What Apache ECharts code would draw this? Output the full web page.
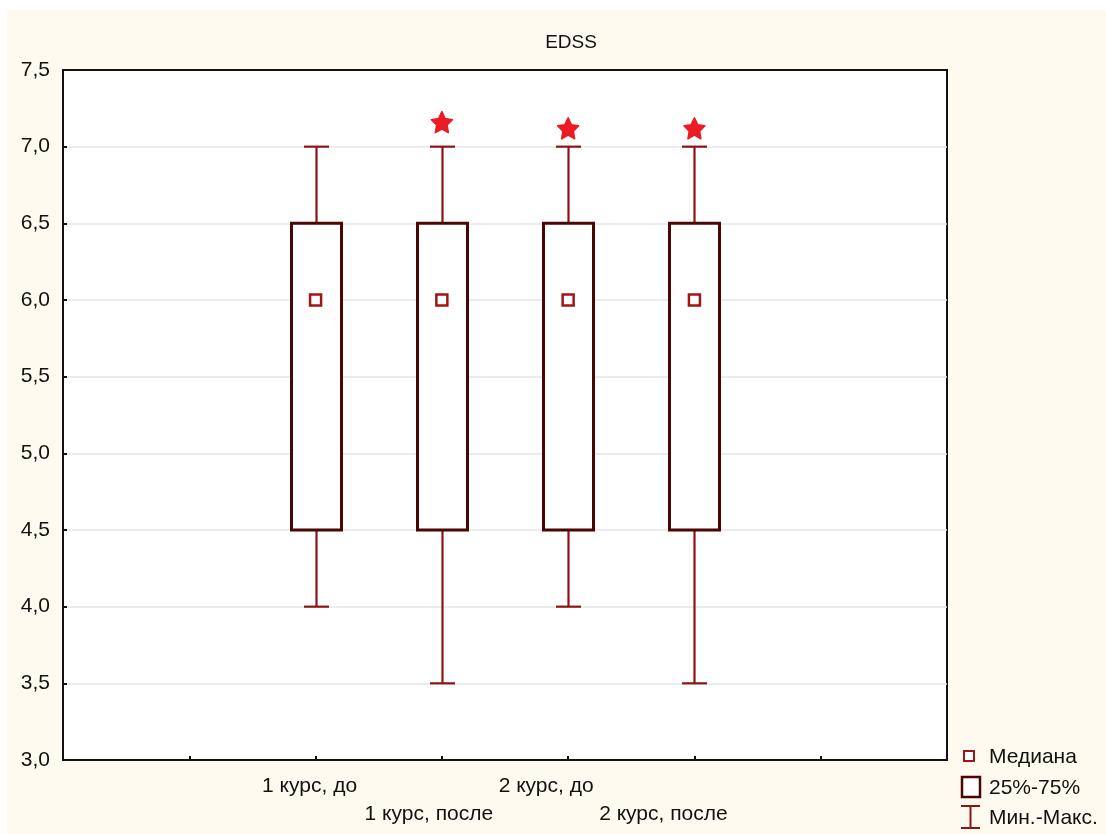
<!DOCTYPE html>
<html>
<head>
<meta charset="utf-8">
<script src="https://cdn.jsdelivr.net/npm/echarts@6/dist/echarts.min.js"></script>
<style>
html,body{margin:0;padding:0;background:#fff;}
#chart{position:absolute;left:0;top:0;width:1106px;height:834px;}
</style>
</head>
<body>
<div id="chart"></div>
<script>
// ---- data ----
const categories = ['1 курс, до', '1 курс, после', '2 курс, до', '2 курс, после'];
const positions = [2, 3, 4, 5];
const minVals = [4.0, 3.5, 4.0, 3.5];
const q1Vals = [4.5, 4.5, 4.5, 4.5];
const medianVals = [6.0, 6.0, 6.0, 6.0];
const q3Vals = [6.5, 6.5, 6.5, 6.5];
const maxVals = [7.0, 7.0, 7.0, 7.0];
const outlierIdx = [1, 2, 3];
const outlierVals = [7.16, 7.12, 7.12];
const legendLabels = ['Медиана', '25%-75%', 'Мин.-Макс.'];

// ---- styles ----
const FONT = 'Liberation Sans, Arial, sans-serif';
const FS = 21;
const labelShift = [6, 13, 22, 31];
const whiskerColor = '#8c1414';
const boxColor = '#4a0505';
const medColor = '#a01616';

const boxData = positions.map((p, i) => [p, minVals[i], q1Vals[i], medianVals[i], q3Vals[i], maxVals[i]]);
const medData = positions.map((p, i) => [p, medianVals[i]]);
const outData = outlierIdx.map((k, i) => [positions[k], outlierVals[i]]);

const rich = {};
categories.forEach((c, i) => {
  rich['r' + i] = {
    fontSize: FS, fontFamily: FONT, color: '#111',
    padding: [i % 2 ? 28 : 0, labelShift[i] * 2, 0, 0]
  };
});

function starPathStr() {
  const pts = [];
  for (let k = 0; k < 10; k++) {
    const r = k % 2 === 0 ? 50 : 25;
    const a = -Math.PI / 2 + k * Math.PI / 5;
    pts.push((50 + r * Math.cos(a)).toFixed(2) + ',' + (52 + r * Math.sin(a)).toFixed(2));
  }
  return 'path://M' + pts.join(' L') + ' Z';
}
const starPath = starPathStr();

const chart = echarts.init(document.getElementById('chart'));
chart.setOption({
  animation: false,
  backgroundColor: 'transparent',
  title: {
    text: 'EDSS', left: 566, top: 28, textAlign: 'center',
    textStyle: { fontFamily: FONT, fontSize: 19, fontWeight: 'normal', color: '#111' }
  },
  grid: {
    left: 63, top: 70, width: 884, height: 690,
    show: true, backgroundColor: '#fff', borderColor: '#111', borderWidth: 2
  },
  xAxis: {
    type: 'value', min: 0, max: 7, interval: 1,
    axisLine: { show: true, lineStyle: { color: '#111', width: 2 } },
    axisTick: { show: true, inside: true, length: 4, lineStyle: { color: '#111', width: 2 } },
    splitLine: { show: false },
    axisLabel: {
      margin: 16, showMinLabel: true, showMaxLabel: true,
      formatter: function (v) {
        const i = positions.indexOf(v);
        return i < 0 ? '' : '{r' + i + '|' + categories[i] + '}';
      },
      rich: rich
    }
  },
  yAxis: {
    type: 'value', min: 3, max: 7.5, interval: 0.5,
    axisLine: { show: true, lineStyle: { color: '#111', width: 2 } },
    axisTick: { show: true, inside: true, length: 4, lineStyle: { color: '#111', width: 2 } },
    splitLine: { show: true, showMinLine: false, showMaxLine: false, lineStyle: { color: '#e4e4e4', width: 1.5 } },
    axisLabel: {
      margin: 13, fontSize: FS, fontFamily: FONT, color: '#111',
      formatter: v => v.toFixed(1).replace('.', ',')
    }
  },
  graphic: [
    { type: 'rect', z: -100, silent: true, shape: { x: 7, y: 10, width: 1099, height: 824 }, style: { fill: '#fffaf0' } },
    { type: 'rect', z: 100, shape: { x: 964, y: 751, width: 10, height: 10 }, style: { fill: '#fff', stroke: medColor, lineWidth: 2 } },
    { type: 'rect', z: 100, shape: { x: 962, y: 777, width: 18, height: 20 }, style: { fill: '#fff', stroke: boxColor, lineWidth: 2.5 } },
    { type: 'line', z: 100, shape: { x1: 961, y1: 806, x2: 980, y2: 806 }, style: { stroke: whiskerColor, lineWidth: 2 } },
    { type: 'line', z: 100, shape: { x1: 970.5, y1: 806, x2: 970.5, y2: 828 }, style: { stroke: whiskerColor, lineWidth: 2 } },
    { type: 'line', z: 100, shape: { x1: 961, y1: 828, x2: 980, y2: 828 }, style: { stroke: whiskerColor, lineWidth: 2 } },
    { type: 'text', z: 100, x: 989, y: 757, style: { text: legendLabels[0], fontSize: FS, fontFamily: FONT, fill: '#111', verticalAlign: 'middle' } },
    { type: 'text', z: 100, x: 989, y: 788, style: { text: legendLabels[1], fontSize: FS, fontFamily: FONT, fill: '#111', verticalAlign: 'middle' } },
    { type: 'text', z: 100, x: 989, y: 818, style: { text: legendLabels[2], fontSize: FS, fontFamily: FONT, fill: '#111', verticalAlign: 'middle' } }
  ],
  series: [
    {
      type: 'custom',
      data: boxData,
      encode: { x: 0, y: [1, 2, 3, 4, 5] },
      renderItem: function (params, api) {
        const x = api.value(0);
        const pMin = api.coord([x, api.value(1)]);
        const pQ1 = api.coord([x, api.value(2)]);
        const pQ3 = api.coord([x, api.value(4)]);
        const pMax = api.coord([x, api.value(5)]);
        const cx = Math.round(pMin[0]) + 0.5;
        const half = 25, cap = 12.5;
        const ws = { stroke: whiskerColor, lineWidth: 2.2 };
        return {
          type: 'group',
          children: [
            { type: 'line', shape: { x1: cx, y1: pMax[1], x2: cx, y2: pQ3[1] }, style: ws },
            { type: 'line', shape: { x1: cx, y1: pQ1[1], x2: cx, y2: pMin[1] }, style: ws },
            { type: 'line', shape: { x1: cx - cap, y1: pMax[1], x2: cx + cap, y2: pMax[1] }, style: ws },
            { type: 'line', shape: { x1: cx - cap, y1: pMin[1], x2: cx + cap, y2: pMin[1] }, style: ws },
            { type: 'rect', shape: { x: cx - half, y: pQ3[1], width: half * 2, height: pQ1[1] - pQ3[1] },
              style: { fill: '#fff', stroke: boxColor, lineWidth: 3 } }
          ]
        };
      },
      z: 2
    },
    {
      type: 'scatter', data: medData, symbol: 'rect', symbolSize: 11, z: 3,
      itemStyle: { color: '#fff', borderColor: medColor, borderWidth: 2.5, opacity: 1 }
    },
    {
      type: 'scatter', data: outData, symbol: starPath, symbolSize: 21, z: 3,
      itemStyle: { color: '#ec1c24', opacity: 1, borderColor: '#ec1c24', borderWidth: 1.5, borderJoin: 'round' }
    }
  ]
});
</script>
</body>
</html>
